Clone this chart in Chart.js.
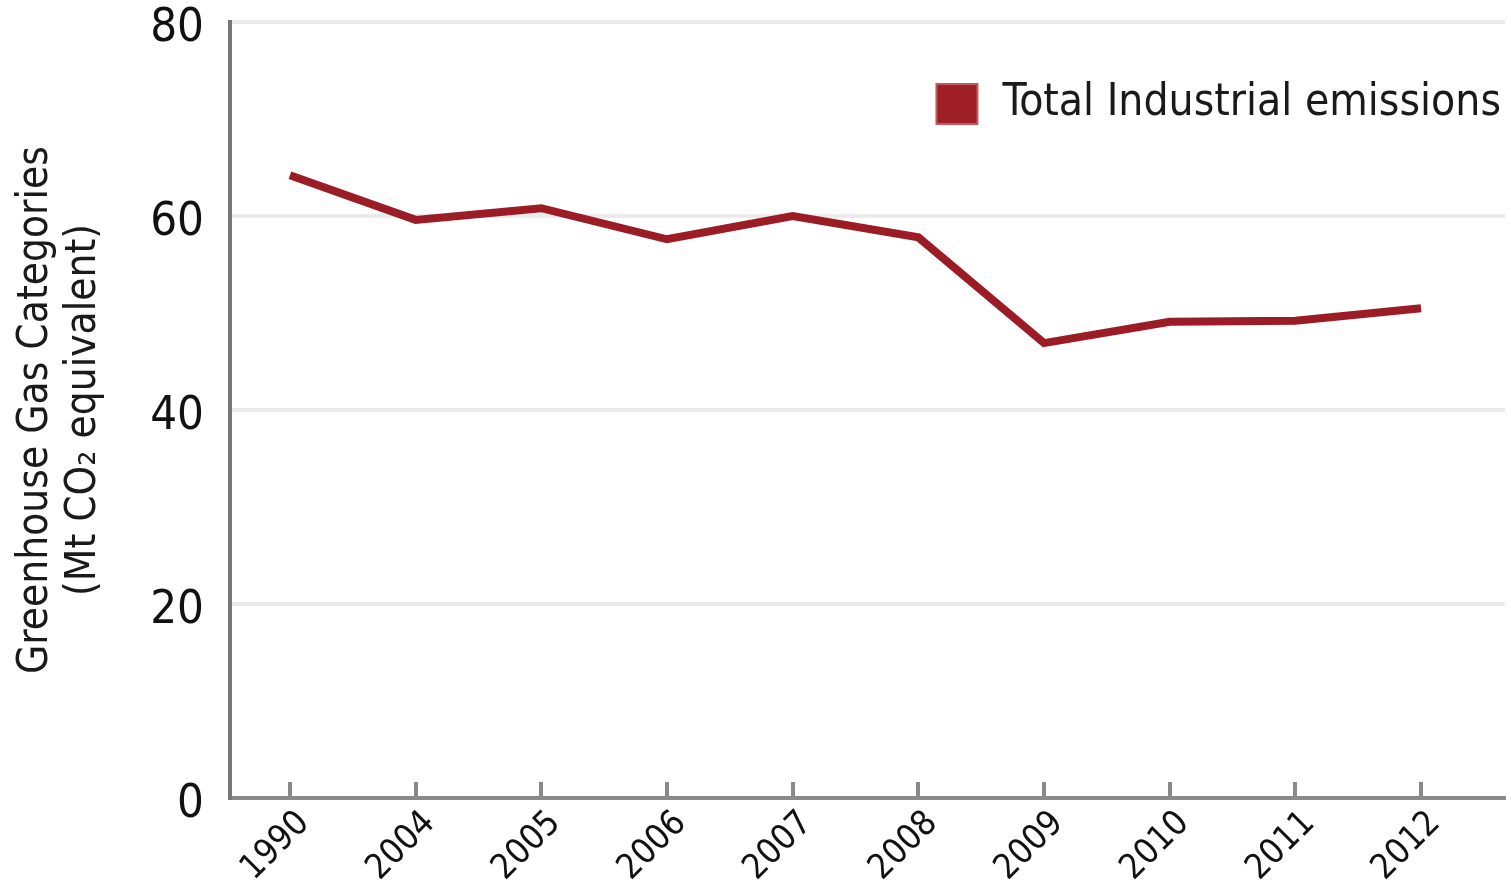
<!DOCTYPE html>
<html>
<head>
<meta charset="utf-8">
<script src="https://cdn.jsdelivr.net/npm/chart.js@4"></script>
<style>
  html, body { margin: 0; padding: 0; background: #fff; }
  #wrap { width: 1511px; height: 888px; }
</style>
</head>
<body>
<div id="wrap"><canvas id="myChart" width="1511" height="888"></canvas></div>
<script>
var years = ['1990', '2004', '2005', '2006', '2007', '2008', '2009', '2010', '2011', '2012'];
var emissions = [64.2, 59.6, 60.8, 57.6, 60.0, 57.8, 46.9, 49.1, 49.2, 50.5];
var yTicks = [0, 20, 40, 60, 80];
var seriesName = 'Total Industrial emissions';
var yTitle = ['Greenhouse Gas Categories', '(Mt CO\u2082 equivalent)'];

var FONT = "'DejaVu Sans Condensed', 'DejaVu Sans', sans-serif";
var RED = '#9b1c24';

// small tick marks pointing up into the plot on the x axis
var innerTicks = {
    id: 'innerTicks',
    afterDraw: function (chart) {
        var c = chart.ctx, x = chart.scales.x, b = chart.chartArea.bottom;
        c.save();
        c.strokeStyle = '#8a8a8a';
        c.lineWidth = 4;
        years.forEach(function (y, i) {
            var px = Math.round(x.getPixelForValue(i));
            c.beginPath();
            c.moveTo(px, b - 16);
            c.lineTo(px, b);
            c.stroke();
        });
        c.restore();
    }
};

// legend box + label in the top right corner of the plot
var cornerLegend = {
    id: 'cornerLegend',
    afterDraw: function (chart) {
        var c = chart.ctx, a = chart.chartArea;
        c.save();
        c.font = '44px ' + FONT;
        c.fillStyle = '#1a1a1a';
        c.textBaseline = 'middle';
        c.textAlign = 'right';
        var right = a.right - 4, midY = a.top + 82;
        var w = c.measureText(seriesName).width;
        c.fillText(seriesName, right, midY);
        var bx = right - w - 25 - 41;
        c.fillStyle = '#9e1f26';
        c.strokeStyle = '#c25a60';
        c.lineWidth = 2;
        c.fillRect(bx, midY - 20, 41, 40);
        c.strokeRect(bx, midY - 20, 41, 40);
        c.restore();
    }
};

var ctx = document.getElementById('myChart').getContext('2d');
var chart = new Chart(ctx, {
    type: 'line',
    data: {
        datasets: [{
            label: seriesName,
            borderColor: RED,
            backgroundColor: RED,
            borderWidth: 8,
            pointRadius: 0,
            tension: 0,
            data: emissions.map(function (v, i) { return { x: i, y: v }; })
        }]
    },
    options: {
        responsive: false,
        animation: false,
        layout: { padding: { top: 22, right: 6, left: 0, bottom: 0 } },
        plugins: {
            tooltip: { enabled: false },
            legend: { display: false }
        },
        scales: {
            x: {
                type: 'linear',
                min: -0.477,
                max: 9.668,
                afterBuildTicks: function (s) {
                    s.ticks = years.map(function (y, i) { return { value: i }; });
                },
                afterFit: function (s) {
                    s.height = 90;
                    s.paddingLeft = 0;
                    s.paddingRight = 0;
                },
                grid: { display: false, drawTicks: false },
                border: { display: true, color: '#8a8a8a', width: 4 },
                ticks: {
                    autoSkip: false,
                    minRotation: 45,
                    maxRotation: 45,
                    padding: 5,
                    labelOffset: 14,
                    color: '#111',
                    font: { family: FONT, size: 35 },
                    callback: function (v) { return years[v]; }
                }
            },
            y: {
                min: 0,
                max: 80,
                afterBuildTicks: function (s) {
                    s.ticks = yTicks.map(function (v) { return { value: v }; });
                },
                afterFit: function (s) {
                    s.width = 230;
                    s.paddingTop = 0;
                    s.paddingBottom = 0;
                },
                grid: { color: '#ebebeb', lineWidth: 4, drawTicks: false },
                border: { display: true, color: '#777', width: 4 },
                ticks: {
                    padding: 26,
                    labelOffset: 7,
                    color: '#111',
                    font: { family: FONT, size: 47 }
                },
                title: {
                    display: true,
                    text: yTitle,
                    color: '#1a1a1a',
                    font: { family: FONT, size: 42, lineHeight: 1.15 },
                    padding: { top: 12, bottom: 0 }
                }
            }
        }
    },
    plugins: [innerTicks, cornerLegend]
});
</script>
</body>
</html>
